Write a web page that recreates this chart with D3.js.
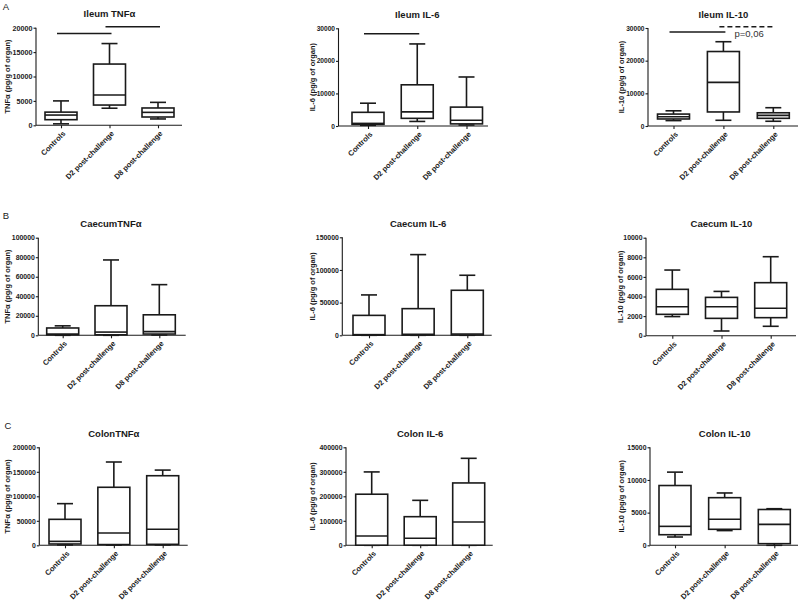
<!DOCTYPE html>
<html>
<head>
<meta charset="utf-8">
<script src="https://cdn.jsdelivr.net/npm/d3@7"></script>
<style>
  body { margin: 0; background: #fff; }
  svg { font-family: "Liberation Sans", Arial, sans-serif; }
</style>
</head>
<body>
<div id="sketchpad"></div>
<script>
// groups on the x axis
const categories = ["Controls", "D2 post-challenge", "D8 post-challenge"]

const titles = ["Ileum TNFα", "Ileum IL-6", "Ileum IL-10",
  "CaecumTNFα", "Caecum IL-6", "Caecum IL-10",
  "ColonTNFα", "Colon IL-6", "Colon IL-10"]

const yLabels = ["TNFα (pg/g of organ)", "IL-6 (pg/g of organ)", "IL-10 (pg/g of organ)",
  "TNFα (pg/g of organ)", "IL-6 (pg/g of organ)", "IL-10 (pg/g of organ)",
  "TNFα (pg/g of organ)", "IL-6 (pg/g of organ)", "IL-10 (pg/g of organ)"]

const yMax = [20000, 30000, 30000, 100000, 150000, 10000, 200000, 400000, 15000]
const yStep = [5000, 10000, 10000, 20000, 50000, 2000, 50000, 100000, 5000]

// box stats per group: [min, q1, median, q3, max]
const ileumTNF = [[300, 1150, 2100, 2700, 5000], [3500, 4150, 6200, 12550, 16750], [1300, 1700, 2650, 3550, 4700]]
const ileumIL6 = [[200, 500, 800, 4200, 7000], [1400, 2350, 4350, 12650, 25200], [300, 650, 1750, 5800, 15050]]
const ileumIL10 = [[1650, 2150, 2850, 3650, 4650], [1750, 4300, 13350, 22800, 25800], [1450, 2350, 3250, 4050, 5600]]
const caecumTNF = [[0, 500, 1300, 7500, 9700], [0, 500, 3300, 30300, 77200], [300, 1300, 3800, 21000, 51900]]
const caecumIL6 = [[0, 200, 1000, 30500, 61800], [0, 300, 1500, 40800, 123500], [0, 500, 2000, 68900, 91900]]
const caecumIL10 = [[1950, 2180, 2960, 4730, 6700], [480, 1770, 2960, 3910, 4520], [960, 1840, 2800, 5410, 8060]]
const colonTNF = [[800, 2700, 8000, 53000, 85000], [500, 1500, 25100, 118400, 170000], [800, 2000, 32700, 142000, 153500]]
const colonIL6 = [[0, 500, 38000, 208500, 299500], [0, 500, 28500, 116800, 183500], [0, 500, 95000, 254500, 355000]]
const colonIL10 = [[1270, 1620, 2900, 9150, 11200], [2250, 2450, 3980, 7290, 8010], [0, 250, 3210, 5480, 5600]]
const stats = [ileumTNF, ileumIL6, ileumIL10, caecumTNF, caecumIL6, caecumIL10, colonTNF, colonIL6, colonIL10]

// significance bars: panel, from group, to group, height, dashed
const sigBars = [
  {panel: 0, from: 0, to: 1, value: 18800, dashed: false},
  {panel: 0, from: 1, to: 2, value: 20200, dashed: false},
  {panel: 1, from: 0, to: 1, value: 28300, dashed: false},
  {panel: 2, from: 0, to: 1, value: 28800, dashed: false},
  {panel: 2, from: 1, to: 2, value: 30400, dashed: true}
]
const pNote = {panel: 2, text: "p=0,06", value: 27300, at: 1.22}

const panelLetters = ["A", "B", "C"]

// layout of the 9 panels
const layout = [
  {x0: 36, x1: 182, top: 27.7, bottom: 125.3, c0: 61, c2: 158, lx: 7, tf: 7.2},
  {x0: 338.5, x1: 488, top: 28.3, bottom: 126, c0: 368, c2: 466.5, lx: 312.5, tf: 6.6},
  {x0: 648, x1: 798, top: 28, bottom: 126, c0: 673.5, c2: 773.3, lx: 621.5, tf: 6.6},
  {x0: 38.3, x1: 185.7, top: 237.7, bottom: 335.3, c0: 62.7, c2: 159.3, lx: 7, tf: 6.9},
  {x0: 342.3, x1: 491.7, top: 237.3, bottom: 335.3, c0: 369, c2: 467.3, lx: 312.5, tf: 6.9},
  {x0: 646, x1: 796, top: 237.7, bottom: 335.7, c0: 672.3, c2: 770.7, lx: 620.5, tf: 6.9},
  {x0: 39.3, x1: 187.7, top: 447.3, bottom: 545.3, c0: 65, c2: 162.7, lx: 7, tf: 6.9},
  {x0: 346, x1: 492.7, top: 447.3, bottom: 545.3, c0: 371.7, c2: 468.7, lx: 312.5, tf: 6.9},
  {x0: 650, x1: 798, top: 447.3, bottom: 545.3, c0: 675, c2: 774.3, lx: 621, tf: 6.9}
]
const letterPos = [[6, 10], [6, 219], [8, 429]]

const ink = "#1a1a1a"
const boxW = 32

let svg = d3.select("#sketchpad")
  .append("svg")
  .attr("width", 800)
  .attr("height", 601)

panelLetters.forEach((l, i) => {
  svg.append("text")
    .attr("x", letterPos[i][0])
    .attr("y", letterPos[i][1])
    .attr("text-anchor", "middle")
    .attr("font-size", 9.5)
    .attr("fill", ink)
    .text(l)
})

layout.forEach((p, i) => {
  let g = svg.append("g")

  let x = d3.scalePoint().domain(categories).range([p.c0, p.c2])
  let y = d3.scaleLinear().domain([0, yMax[i]]).range([p.bottom, p.top])

  // y axis
  let yAxis = g.append("g")
    .attr("transform", `translate(${p.x0},0)`)
    .call(d3.axisLeft(y).tickValues(d3.range(0, yMax[i] + 1, yStep[i])).tickSize(2.5).tickPadding(1).tickFormat(d3.format("d")))
  yAxis.select(".domain").attr("d", `M0,${p.bottom}V${p.top}`)
  yAxis.selectAll("line, path").attr("stroke", ink).attr("stroke-width", 1.1)
  yAxis.selectAll("text")
    .attr("font-size", p.tf)
    .attr("font-weight", "bold")
    .attr("fill", ink)
    .attr("font-family", "Liberation Sans, Arial, sans-serif")

  // x axis
  let xAxis = g.append("g")
    .attr("transform", `translate(0,${p.bottom})`)
    .call(d3.axisBottom(x).tickSize(3).tickFormat(""))
  xAxis.select(".domain").attr("d", `M${p.x0},0H${p.x1}`)
  xAxis.selectAll("line, path").attr("stroke", ink).attr("stroke-width", 1.1)

  g.selectAll(".cat")
    .data(categories)
    .join("text")
    .attr("class", "cat")
    .attr("transform", d => `translate(${x(d) + 3},${p.bottom + 7}) rotate(-45)`)
    .attr("text-anchor", "end")
    .attr("dy", "0.35em")
    .attr("font-size", 7.5)
    .attr("font-weight", "bold")
    .attr("fill", ink)
    .text(d => d)

  // title
  g.append("text")
    .attr("x", (p.c0 + p.c2) / 2)
    .attr("y", p.top - 10.5)
    .attr("text-anchor", "middle")
    .attr("font-size", 9.5)
    .attr("font-weight", "bold")
    .attr("fill", ink)
    .text(titles[i])

  // y label
  g.append("text")
    .attr("transform", `translate(${p.lx},${(p.top + p.bottom) / 2}) rotate(-90)`)
    .attr("text-anchor", "middle")
    .attr("dy", "0.35em")
    .attr("font-size", 7.5)
    .attr("font-weight", "bold")
    .attr("fill", ink)
    .text(yLabels[i])

  // boxes
  let boxes = g.selectAll(".box")
    .data(stats[i].map((s, k) => ({cat: categories[k], s: s})))
    .join("g")
    .attr("class", "box")
    .attr("fill", "none")
    .attr("stroke", ink)
    .attr("stroke-width", 1.6)

  boxes.append("line")
    .attr("x1", d => x(d.cat)).attr("x2", d => x(d.cat))
    .attr("y1", d => y(d.s[3])).attr("y2", d => y(d.s[4]))
  boxes.append("line")
    .attr("x1", d => x(d.cat)).attr("x2", d => x(d.cat))
    .attr("y1", d => y(d.s[0])).attr("y2", d => y(d.s[1]))
  boxes.selectAll(".cap")
    .data(d => [d, d].map((e, j) => ({cat: e.cat, v: j ? e.s[4] : e.s[0]})))
    .join("line")
    .attr("class", "cap")
    .attr("x1", d => x(d.cat) - boxW / 4).attr("x2", d => x(d.cat) + boxW / 4)
    .attr("y1", d => y(d.v)).attr("y2", d => y(d.v))
  boxes.append("rect")
    .attr("x", d => x(d.cat) - boxW / 2)
    .attr("width", boxW)
    .attr("y", d => y(d.s[3]))
    .attr("height", d => y(d.s[1]) - y(d.s[3]))
    .attr("fill", "#fff")
  boxes.append("line")
    .attr("x1", d => x(d.cat) - boxW / 2).attr("x2", d => x(d.cat) + boxW / 2)
    .attr("y1", d => y(d.s[2])).attr("y2", d => y(d.s[2]))

  // significance bars
  g.selectAll(".sig")
    .data(sigBars.filter(b => b.panel === i))
    .join("line")
    .attr("class", "sig")
    .attr("x1", d => x(categories[d.from]) - 4)
    .attr("x2", d => x(categories[d.to]) + 2)
    .attr("y1", d => y(d.value)).attr("y2", d => y(d.value))
    .attr("stroke", ink)
    .attr("stroke-width", 1.5)
    .attr("stroke-dasharray", d => d.dashed ? "5,3" : null)

  if (pNote.panel === i) {
    g.append("text")
      .attr("x", p.c0 + (p.c2 - p.c0) / 2 * pNote.at)
      .attr("y", y(pNote.value))
      .attr("font-size", 9.5)
      .attr("fill", "#333")
      .text(pNote.text)
  }
})
</script>
</body>
</html>
